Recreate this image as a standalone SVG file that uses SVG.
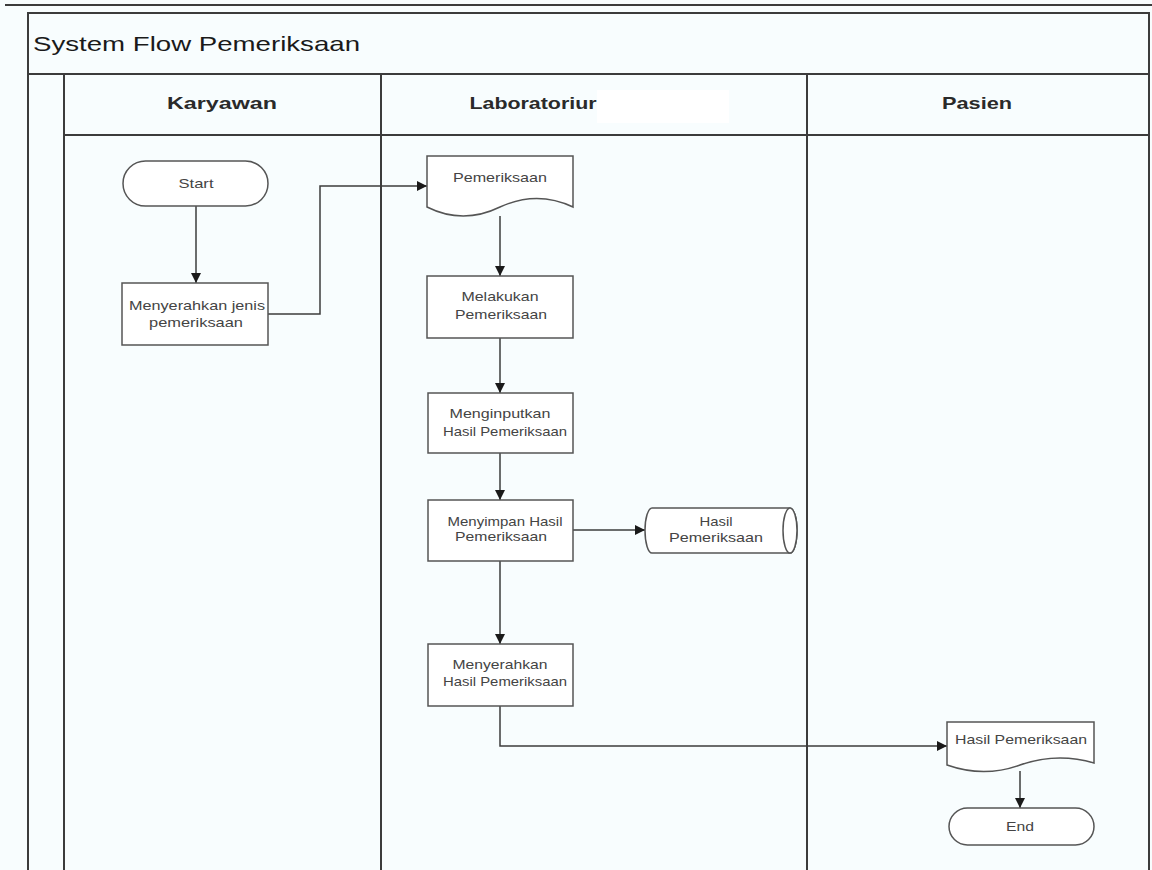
<svg xmlns="http://www.w3.org/2000/svg" width="1152" height="870" viewBox="0 0 1152 870">
  <style>
    .lane { fill: none; stroke: #3c3c3c; stroke-width: 2; }
    .shape { fill: #ffffff; stroke: #555555; stroke-width: 1.5; }
    .flow { fill: none; stroke: #3c3c3c; stroke-width: 1.5; }
    .title { font-family: "Liberation Sans", Arial, sans-serif; font-size: 21px; fill: #1a1a1a; }
    .head { font-family: "Liberation Sans", Arial, sans-serif; font-size: 17px; font-weight: bold; fill: #2a2a2a; text-anchor: middle; }
    .lbl { font-family: "Liberation Sans", Arial, sans-serif; font-size: 13.5px; fill: #444444; text-anchor: middle; }
  </style>
  <defs>
    <marker id="arrow" viewBox="0 0 10 10" refX="10" refY="5" markerWidth="10" markerHeight="10" markerUnits="userSpaceOnUse" orient="auto">
      <path d="M0,0 L10,5 L0,10 Z" fill="#1a1a1a"/>
    </marker>
  </defs>

  <rect x="0" y="0" width="1152" height="870" fill="#f8fdfe"/>

  <!-- swimlane frame -->
  <g id="swimlanes">
    <line class="lane" x1="5" y1="5" x2="1152" y2="5"/>
    <path class="lane" d="M28,870 V13 H1149 V870"/>
    <line class="lane" x1="28" y1="74" x2="1149" y2="74"/>
    <line class="lane" x1="64" y1="74" x2="64" y2="870"/>
    <line class="lane" x1="64" y1="135" x2="1149" y2="135"/>
    <line class="lane" x1="381" y1="74" x2="381" y2="870"/>
    <line class="lane" x1="807" y1="74" x2="807" y2="870"/>
    <text class="title" x="33" y="51" textLength="327" lengthAdjust="spacingAndGlyphs">System Flow Pemeriksaan</text>
    <text class="head" x="222" y="109" textLength="110" lengthAdjust="spacingAndGlyphs">Karyawan</text>
    <text class="head" x="533" y="109" textLength="127" lengthAdjust="spacingAndGlyphs">Laboratoriur</text>
    <rect x="597" y="90" width="132" height="33" fill="#ffffff"/>
    <text class="head" x="977" y="109" textLength="70" lengthAdjust="spacingAndGlyphs">Pasien</text>
  </g>

  <!-- connectors -->
  <g id="connectors">
    <line class="flow" x1="196" y1="206" x2="196" y2="283" marker-end="url(#arrow)"/>
    <polyline class="flow" points="268,314 320,314 320,186 427,186" marker-end="url(#arrow)"/>
    <line class="flow" x1="500" y1="216" x2="500" y2="276" marker-end="url(#arrow)"/>
    <line class="flow" x1="500" y1="338" x2="500" y2="393" marker-end="url(#arrow)"/>
    <line class="flow" x1="500" y1="453" x2="500" y2="500" marker-end="url(#arrow)"/>
    <line class="flow" x1="573" y1="530" x2="645" y2="530" marker-end="url(#arrow)"/>
    <line class="flow" x1="500" y1="561" x2="500" y2="644" marker-end="url(#arrow)"/>
    <polyline class="flow" points="500,706 500,746 947,746" marker-end="url(#arrow)"/>
    <line class="flow" x1="1020" y1="771" x2="1020" y2="808" marker-end="url(#arrow)"/>
  </g>

  <g id="start">
    <rect class="shape" x="123" y="161" width="145" height="45" rx="22.5"/>
    <text class="lbl" x="196" y="188" textLength="35" lengthAdjust="spacingAndGlyphs">Start</text>
  </g>

  <g id="menyerahkan-jenis">
    <rect class="shape" x="122" y="283" width="146" height="62"/>
    <text class="lbl" x="197" y="310" textLength="136" lengthAdjust="spacingAndGlyphs">Menyerahkan jenis</text>
    <text class="lbl" x="196" y="327" textLength="94" lengthAdjust="spacingAndGlyphs">pemeriksaan</text>
  </g>

  <g id="doc-pemeriksaan">
    <path class="shape" d="M427,156 H573 V207 Q537,190 500,207 Q463,225 427,207 Z"/>
    <text class="lbl" x="500" y="182" textLength="94" lengthAdjust="spacingAndGlyphs">Pemeriksaan</text>
  </g>

  <g id="melakukan">
    <rect class="shape" x="427" y="276" width="146" height="62"/>
    <text class="lbl" x="500" y="301" textLength="77" lengthAdjust="spacingAndGlyphs">Melakukan</text>
    <text class="lbl" x="501" y="319" textLength="92" lengthAdjust="spacingAndGlyphs">Pemeriksaan</text>
  </g>

  <g id="menginputkan">
    <rect class="shape" x="428" y="393" width="145" height="60"/>
    <text class="lbl" x="500" y="418" textLength="101" lengthAdjust="spacingAndGlyphs">Menginputkan</text>
    <text class="lbl" x="505" y="436" textLength="124" lengthAdjust="spacingAndGlyphs">Hasil Pemeriksaan</text>
  </g>

  <g id="menyimpan">
    <rect class="shape" x="428" y="500" width="145" height="61"/>
    <text class="lbl" x="505" y="526" textLength="115" lengthAdjust="spacingAndGlyphs">Menyimpan Hasil</text>
    <text class="lbl" x="501" y="541" textLength="92" lengthAdjust="spacingAndGlyphs">Pemeriksaan</text>
  </g>

  <g id="storage-hasil">
    <path class="shape" d="M652,508 H790 A7,22.5 0 0 1 790,553 H652 A7,22.5 0 0 1 652,508 Z"/>
    <ellipse class="shape" cx="790" cy="530.5" rx="7" ry="22.5"/>
    <text class="lbl" x="716" y="526" textLength="33" lengthAdjust="spacingAndGlyphs">Hasil</text>
    <text class="lbl" x="716" y="542" textLength="94" lengthAdjust="spacingAndGlyphs">Pemeriksaan</text>
  </g>

  <g id="menyerahkan-hasil">
    <rect class="shape" x="428" y="644" width="145" height="62"/>
    <text class="lbl" x="500" y="669" textLength="95" lengthAdjust="spacingAndGlyphs">Menyerahkan</text>
    <text class="lbl" x="505" y="686" textLength="124" lengthAdjust="spacingAndGlyphs">Hasil Pemeriksaan</text>
  </g>

  <g id="doc-hasil">
    <path class="shape" d="M947,722 H1094 V763 Q1057,752 1020,765 Q984,778 947,765 Z"/>
    <text class="lbl" x="1021" y="744" textLength="132" lengthAdjust="spacingAndGlyphs">Hasil Pemeriksaan</text>
  </g>

  <g id="end">
    <rect class="shape" x="949" y="808" width="145" height="37" rx="18.5"/>
    <text class="lbl" x="1020" y="831" textLength="28" lengthAdjust="spacingAndGlyphs">End</text>
  </g>
</svg>
